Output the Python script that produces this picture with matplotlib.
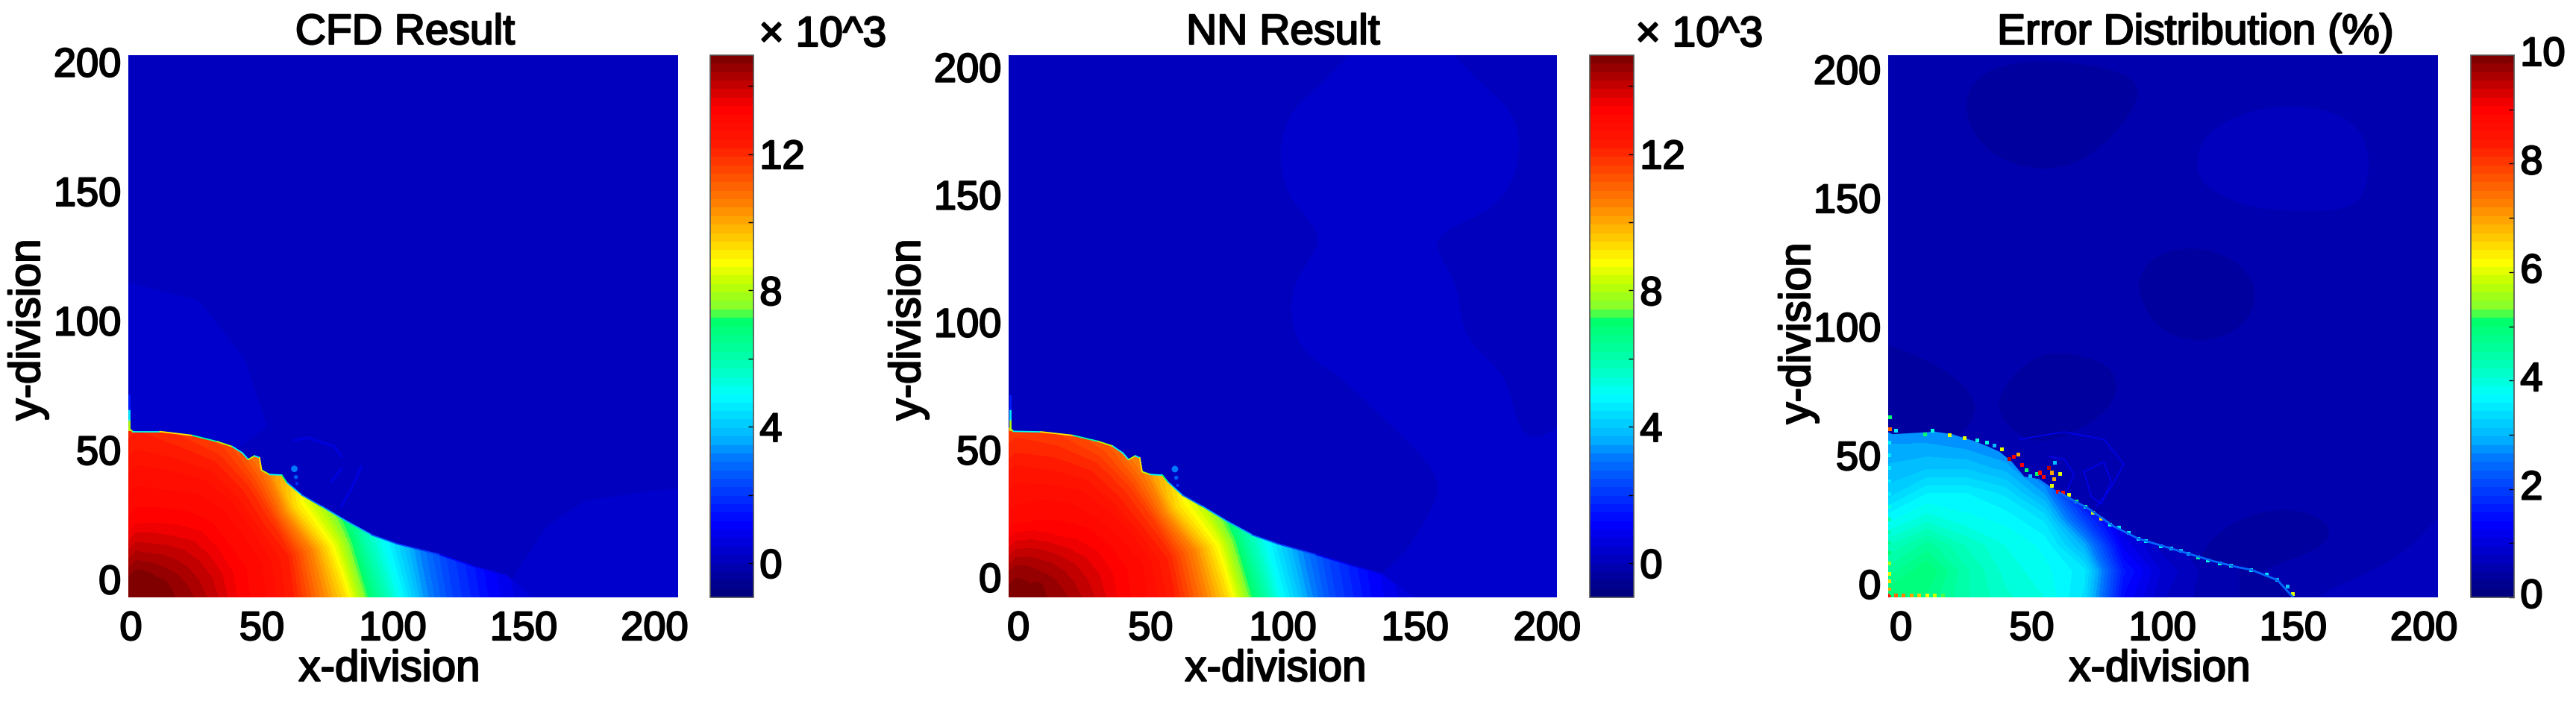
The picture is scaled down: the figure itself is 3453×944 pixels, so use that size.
import numpy as np
import matplotlib
matplotlib.use("Agg")
import matplotlib.pyplot as plt
import matplotlib.patheffects as pe
from matplotlib.cm import ScalarMappable
from matplotlib.colors import LinearSegmentedColormap, Normalize
from matplotlib.patches import Polygon
from matplotlib.transforms import ScaledTranslation

plt.rcParams['font.family'] = ['Liberation Sans', 'DejaVu Sans']

W, H = 3453, 945

# colour bar stops (not the stock jet, green has a hard step)
cmap_pos = [0, 0.13, 0.25, 0.29, 0.37, 0.42, 0.515, 0.53, 0.58, 0.62, 0.73, 0.84, 0.91, 1]
cmap_rgb = [(0, 0, 0.5), (0, 0, 1), (0, 0.45, 1), (0, 0.7, 1), (0, 1, 1), (0, 1, 0.75), (0, 1, 0.4),
            (0.5, 1, 0.2), (0.75, 1, 0), (1, 1, 0), (1, 0.5, 0), (1, 0.1, 0), (1, 0, 0), (0.5, 0, 0)]

# temperature tables, x 10^3: one row per ray from the stagnation point, one column per radius
ray_deg = [0, 15, 30, 45, 60, 75, 90, 180]
ray_r = [0, 10, 20, 30, 40, 50, 60, 70, 80, 90, 100, 110, 120, 135, 155]
cfd_vals = [
    [14.9, 14.8, 14.5, 14.0, 13.3, 12.9, 12.2, 10.7, 9.2, 6.8, 5.1, 3.4, 2.3, 1.2, 0.2],
    [14.9, 14.8, 14.4, 13.9, 13.3, 12.9, 12.2, 10.4, 8.3, 6.0, 4.5, 3.2, 2.2, 1.1, 0.2],
    [14.9, 14.8, 14.3, 13.8, 13.2, 12.8, 11.8, 9.3, 7.8, 6.5, 5.0, 3.2, 2.2, 1.1, 0.2],
    [14.9, 14.7, 14.2, 13.7, 13.2, 12.8, 12.0, 10.6, 9.5, 9.0, 8.5, 8.0, 7.0, 6.0, 5.0],
    [14.9, 14.7, 14.1, 13.5, 13.1, 12.8, 12.2, 11.4, 10.5, 10.0, 9.5, 9.0, 8.5, 8.0, 7.0],
    [14.9, 14.7, 14.0, 13.4, 13.0, 12.7, 12.2, 11.6, 11.0, 10.5, 10.0, 9.5, 9.0, 8.5, 8.0],
    [14.9, 14.7, 14.0, 13.3, 13.0, 12.7, 12.3, 12.0, 11.5, 11.0, 10.5, 10.0, 9.5, 9.0, 8.5],
    [14.9, 14.7, 14.0, 13.3, 13.0, 12.7, 12.3, 12.0, 11.5, 11.0, 10.5, 10.0, 9.5, 9.0, 8.5],
]
nn_vals = [
    [14.8, 14.7, 14.4, 13.9, 13.3, 12.9, 12.2, 10.8, 9.3, 7.0, 5.0, 3.5, 2.3, 1.2, 0.2],
    [14.8, 14.7, 14.3, 13.8, 13.3, 12.9, 12.1, 10.5, 8.6, 6.2, 4.5, 3.2, 2.2, 1.1, 0.2],
    [14.8, 14.7, 14.2, 13.7, 13.2, 12.7, 11.7, 9.4, 8.0, 6.5, 5.0, 3.2, 2.2, 1.1, 0.2],
    [14.8, 14.6, 14.1, 13.5, 13.1, 12.6, 11.8, 10.4, 9.3, 8.8, 8.4, 8.0, 7.0, 6.0, 5.0],
    [14.8, 14.6, 14.0, 13.3, 13.0, 12.6, 12.0, 11.1, 10.3, 9.8, 9.3, 8.8, 8.3, 7.8, 7.0],
    [14.8, 14.6, 13.9, 13.2, 12.9, 12.5, 12.0, 11.4, 10.8, 10.3, 9.8, 9.3, 8.8, 8.3, 7.8],
    [14.8, 14.6, 13.8, 13.1, 12.8, 12.5, 12.0, 11.7, 11.2, 10.7, 10.2, 9.7, 9.2, 8.7, 8.2],
    [14.8, 14.6, 13.8, 13.1, 12.8, 12.5, 12.0, 11.7, 11.2, 10.7, 10.2, 9.7, 9.2, 8.7, 8.2],
]

# shock front outlines and the colour value of the thin edge along them
cfd_front_x = [-1, 0.7, 11.1, 23.5, 33, 38.7, 42.5, 44.8, 47.2, 49.1, 49.9, 52.9, 57.6, 59.5, 65.2, 72.8, 82.3, 91.8, 101.3, 118, 130.3, 143.6, 153.1]
cfd_front_y = [58.5, 57.1, 57.1, 55.6, 53.2, 51.3, 48.9, 46.3, 47.7, 47, 42.2, 40.5, 40.3, 37.4, 32.6, 28.2, 22.5, 17.2, 13.8, 9.5, 5.2, 1.35, -7]
nn_front_x = [-3.3, -1.9, 8.5, 20.7, 30.1, 35.7, 39.5, 41.7, 44.2, 45.9, 46.8, 49.8, 54.5, 56.4, 62, 69.6, 79, 88.4, 97.8, 112.8, 125.5, 138, 149]
nn_front_y = [58.5, 57.2, 57, 55.6, 53.3, 51.4, 48.7, 46.1, 47.6, 46.8, 41.4, 40.3, 40, 37.5, 32.2, 27.8, 21.9, 16.6, 13.2, 8.8, 4.8, 1, -7.9]
edge_v = [8, 5, 9, 6, 8, 5, 5, 8, 5, 9, 8, 5, 7, 4, 3, 3.5, 3.5, 2.5, 2, 1.2, 0.8, 0.5, 0.2]

# faint structures above the front, CFD panel
cfd_arc1_x = [62.4, 67.7, 77.6, 80.4]
cfd_arc1_y = [53.7, 54.7, 51.3, 47.5]
cfd_arc2_x = [88, 84.2, 80.4]
cfd_arc2_y = [43.6, 35, 28.2]
cfd_arc3_x = [76.6, 80.4]
cfd_arc3_y = [37.8, 42.7]
# slightly lighter regions of the CFD background
lite_left_x = [-1, -1, 26, 43.6, 52, 40]
lite_left_y = [50, 114.7, 107.8, 85, 59, 50]
lite_right_x = [145.5, 158.8, 173, 196.8, 209, 209, 150]
lite_right_y = [0.4, 20.5, 30.2, 34, 35, -7, -7]

# blobs above the front: x, y, value, marker area
blob_x = [62.4, 63, 63.4]
blob_y = [42.7, 39.5, 37]
blob_nn_x = [59.2, 59.7, 60.2]
blob_nn_y = [42.4, 39, 36]
blob_v = [3, 2.5, 2]
blob_s = [40, 16, 8]

# NN and error background tables on a 20 division lattice, bottom row first
nn_bg = [
    [.2, .2, .2, .2, .2, .2, .2, .3, .35, .35, .35, .35],
    [.2, .2, .2, .2, .2, .1, .1, .1, .3, .35, .35, .35],
    [.1, .2, .3, .2, .1, .1, .1, .1, .2, .3, .3, .35],
    [.1, .1, .2, .1, .1, .1, .1, .2, .3, .3, .2, .3],
    [.1, .1, .1, .1, .1, .2, .2, .3, .3, .3, .2, .2],
    [.2, .1, .1, .1, .2, .2, .3, .3, .3, .2, .2, .2],
    [.2, .2, .2, .2, .2, .2, .3, .35, .3, .2, .2, .2],
    [.2, .2, .1, .1, .1, .2, .2, .3, .2, .2, .2, .2],
    [.2, .2, .1, .1, .2, .2, .35, .4, .4, .3, .2, .2],
    [.2, .2, .2, .2, .2, .2, .35, .4, .4, .35, .2, .2],
    [.1, .1, .2, .2, .2, .2, .2, .35, .35, .2, .2, .2],
    [.2, .2, .2, .2, .2, .2, .2, .2, .2, .2, .2, .2],
]
err_bg = [
    [.6, .6, .6, .6, .6, .5, .45, .5, .65, .75, .8, .8],
    [.6, .6, .6, .6, .6, .55, .45, .4, .38, .45, .6, .7],
    [.55, .55, .55, .55, .6, .6, .55, .5, .5, .55, .6, .6],
    [.4, .45, .5, .45, .55, .6, .6, .6, .6, .6, .6, .55],
    [.32, .4, .5, .35, .35, .55, .6, .6, .6, .6, .6, .5],
    [.5, .55, .55, .5, .55, .5, .45, .5, .55, .55, .6, .6],
    [.5, .55, .55, .55, .5, .45, .3, .45, .55, .55, .6, .6],
    [.5, .5, .5, .5, .5, .5, .5, .55, .55, .6, .6, .6],
    [.45, .5, .5, .5, .5, .55, .65, .7, .7, .65, .55, .55],
    [.5, .5, .45, .4, .45, .5, .65, .7, .72, .65, .55, .55],
    [.5, .5, .42, .4, .42, .45, .5, .55, .55, .55, .55, .55],
    [.55, .55, .55, .55, .55, .55, .55, .55, .55, .55, .55, .55],
]

# error inside the front, percent
err_tab_x = [-5, 10, 25, 40, 55, 70, 85, 100, 120, 150]
err_tab_y = [-5.2, 5, 15, 25, 35, 45, 55, 62]
err_vals = [
    [5.0, 4.8, 4.4, 4.1, 3.9, 3.4, 1.4, 0.8, 0.5, 0.4],
    [4.6, 5.0, 4.4, 4.0, 3.8, 3.5, 1.6, 0.9, 0.5, 0.4],
    [4.2, 4.6, 4.2, 3.9, 3.7, 2.9, 1.2, 0.7, 0.5, 0.4],
    [3.7, 4.0, 3.8, 3.7, 3.4, 2.0, 0.9, 0.6, 0.5, 0.4],
    [3.2, 3.6, 3.6, 3.4, 2.8, 1.2, 0.7, 0.6, 0.5, 0.4],
    [3.0, 3.1, 3.1, 2.9, 2.3, 1.0, 0.7, 0.6, 0.5, 0.4],
    [2.8, 2.8, 2.7, 2.5, 2.0, 0.9, 0.7, 0.6, 0.5, 0.4],
    [2.7, 2.7, 2.6, 2.4, 1.9, 0.9, 0.7, 0.6, 0.5, 0.4],
]
err_front_x = [-5, -3.2, 13, 19.6, 29.1, 37.7, 42.4, 47.2, 52.9, 60.5, 71.9, 81.4, 90.8, 100.3, 109.9, 119.4, 128.9, 134, 144, 150]
err_front_y = [59, 58.2, 59.2, 58.2, 55.2, 51.4, 47.5, 41.7, 40.8, 35.5, 29.2, 22.4, 17.6, 14.7, 11.8, 8.9, 6.5, 5.5, 1.5, -5.2]

# isolated hot cells in the error panel
spk_x = [-4.2, -4.2, -1.8, 12, 9.1, 18.6, 24.3, 29.1, 32.9, 35.8, 38.6, 41.5, 43.1, 44.8, 46.2, 48.1, 49.5,
         51.9, 53.3, 54.6, 56.7, 57.6, 61, 58.6, 57.6, 60, 61.9, 59, 64.3, 67.1, 70.5, 73.3, 76.6, 80, 83.3,
         87.1, 90.9, 93.8, 99.5, 103.3, 107.1, 110, 113.7, 117.5, 121.8, 126.1, 134, 140, 144, 148, 150]
spk_y = [64.9, 60.1, 59.6, 59.6, 58.2, 57.7, 56.7, 55.7, 54.8, 53.8, 52.4, 48.5, 49.5, 50.4, 46.1, 44.1, 41.9,
         42.7, 43.2, 41.5, 45.1, 43.2, 42.7, 40.8, 38.1, 35.9, 35.6, 47, 34.7, 32, 30.1, 27.7, 25.3, 23.2, 21.9,
         20, 17.6, 16.8, 14.7, 13.7, 12.8, 11.8, 10.3, 9.1, 7.9, 7, 5.5, 3.5, 1.5, -1, -4]
spk_v = [5, 7.5, 3.5, 4, 5, 6, 6, 4, 4, 3, 6, 9.5, 9, 7, 9, 5, 3,
         5, 8.5, 9, 9.5, 7, 6, 7, 6, 9, 8.5, 3, 6, 5, 4.5, 6, 6.5, 4, 3.5,
         3.5, 3.5, 3.5, 3.5, 3.5, 3, 3, 4.5, 4, 4, 4, 3.5, 3.5, 3, 3, 6]
# faint rings around the speckles
ring1_x = [45.3, 62.4, 77.6, 85.2, 80, 74.7]
ring1_y = [56.2, 59.1, 56.2, 46.6, 36.9, 30.1]
ring2_x = [70, 72.8, 76.6, 80.4, 77.6, 70]
ring2_y = [43.7, 34, 31.1, 39.8, 47.5, 43.7]
ring3_x = [56.7, 62.4, 66.2, 63.3]
ring3_y = [49.5, 48.5, 42.7, 35.9]
# left wall and bottom strip of the error panel
wall_y = [-5, -2, 1, 4, 8, 12, 16, 20, 25, 30, 35, 40, 45, 50, 55]
wall_v = [8, 7, 6.5, 6, 5.5, 5, 4.8, 4.5, 4.5, 4, 3.5, 3.5, 3.5, 3.5, 3.5]
strip_x = [-5, -2, 1, 4, 7, 10, 13, 16, 20]
strip_v = [8.5, 7.5, 7.2, 7, 6.6, 6.2, 5.8, 5.2, 4.6]

xticks = [0, 50, 100, 150, 200]
yticks = [0, 50, 100, 150, 200]

fs = 39
bold = [pe.withStroke(linewidth=1.6, foreground='black')]
cmap = LinearSegmentedColormap.from_list('cfd', list(zip(cmap_pos, cmap_rgb)), N=64)


def fig_text(px, py, s, size=fs, **kw):
    fig.text(px / W, 1 - py / H, s, ha='center', va='center', fontsize=size, path_effects=bold, **kw)


def panel(box, xlim, ylim, norm, bg=None):
    left, right, top, bottom = box
    ax = fig.add_axes([left / W, 1 - bottom / H, (right - left) / W, (bottom - top) / H])
    if bg is None:
        ax.set_facecolor(cmap(norm(0.1)))
    else:
        ax.imshow(bg, origin='lower', extent=(-15, 225, -15, 225), aspect='auto', cmap=cmap, norm=norm,
                  interpolation='bicubic')
    ax.set_xlim(xlim)
    ax.set_ylim(ylim)
    ax.set_xticks(xticks)
    ax.set_yticks(yticks)
    ax.tick_params(length=0, labelsize=fs, pad=7)
    ax.tick_params(axis='x', pad=13)
    for lab in ax.get_xticklabels() + ax.get_yticklabels():
        lab.set_path_effects(bold)
    for s in ax.spines.values():
        s.set_visible(False)
    return ax


def hot_zone(ax, X, Y, vals, front_x, front_y, norm):
    levels = np.linspace(norm.vmin, norm.vmax, 65)
    xlim, ylim = ax.get_xlim(), ax.get_ylim()
    outline = list(zip(front_x, front_y)) + [(front_x[-1], ylim[0]), (xlim[0], ylim[0]), (xlim[0], front_y[0])]
    clip = Polygon(outline, closed=True, transform=ax.transData, facecolor='none', edgecolor='none')
    ax.add_patch(clip)
    cs = ax.contourf(X, Y, vals, levels=levels, cmap=cmap, norm=norm, extend='both')
    cs.set_clip_path(clip)
    ax.set_xlim(xlim)
    ax.set_ylim(ylim)


def polar_zone(ax, cx, cy, vals, front_x, front_y, norm):
    ang = np.deg2rad(ray_deg)
    X = cx + np.outer(np.cos(ang), ray_r)
    Y = cy + np.outer(np.sin(ang), ray_r)
    hot_zone(ax, X, Y, np.array(vals), front_x, front_y, norm)


def edge(ax, xs, ys, vals, norm):
    for i in range(len(xs) - 1):
        ax.plot(xs[i:i + 2], ys[i:i + 2], color=cmap(norm(vals[i])), lw=1.3, solid_capstyle='round')


def colorbar(box, norm, ticks, labels, shift=0):
    left, right, top, bottom = box
    cax = fig.add_axes([left / W, 1 - bottom / H, (right - left) / W, (bottom - top) / H])
    cb = fig.colorbar(ScalarMappable(norm=norm, cmap=cmap), cax=cax)
    cb.set_ticks(ticks)
    cb.set_ticklabels(labels)
    cb.outline.set_linewidth(1.2)
    cb.outline.set_edgecolor('#555555')
    cax.tick_params(direction='in', length=5, width=1, labelsize=fs, pad=6, color='black')
    off = ScaledTranslation(0, shift / 72, fig.dpi_scale_trans)
    for lab in cax.get_yticklabels():
        lab.set_path_effects(bold)
        lab.set_transform(lab.get_transform() + off)
    return cax


fig = plt.figure(figsize=(W / 100, H / 100), dpi=100)

norm_t = Normalize(-1, 14.9)
norm_e = Normalize(0, 10)
t_ticks = [0, 2, 4, 6, 8, 10, 12, 14]
t_labels = ['0', '', '4', '', '8', '', '12', '']
e_ticks = list(range(11))
e_labels = ['0', '', '2', '', '4', '', '6', '', '8', '', '10']

# CFD
ax1 = panel((172, 909, 75, 802), (-1, 209), (-7, 202.6), norm_t)
ax1.fill(lite_left_x, lite_left_y, color=cmap(norm_t(0.4)), lw=0)
ax1.fill(lite_right_x, lite_right_y, color=cmap(norm_t(0.4)), lw=0)
for ax_x, ax_y in [(cfd_arc1_x, cfd_arc1_y), (cfd_arc2_x, cfd_arc2_y), (cfd_arc3_x, cfd_arc3_y)]:
    ax1.plot(ax_x, ax_y, color=cmap(norm_t(0.5)), lw=2.5)
polar_zone(ax1, 2, -7, cfd_vals, cfd_front_x, cfd_front_y, norm_t)
edge(ax1, cfd_front_x, cfd_front_y, edge_v, norm_t)
ax1.plot([-0.6, -0.6], [58, 62], color=cmap(norm_t(8)), lw=2)
ax1.plot([-0.6, -0.6], [62, 66], color=cmap(norm_t(4.5)), lw=2)
ax1.plot([-0.6, -0.6], [66, 71], color=cmap(norm_t(1.5)), lw=2)
ax1.scatter(blob_x, blob_y, c=blob_v, s=blob_s, cmap=cmap, norm=norm_t, lw=0)

# NN
ax2 = panel((1352, 2087, 75, 802), (-3.7, 203.7), (-7.9, 204.7), norm_t, nn_bg)
polar_zone(ax2, -1, -7.9, nn_vals, nn_front_x, nn_front_y, norm_t)
edge(ax2, nn_front_x, nn_front_y, edge_v, norm_t)
ax2.plot([-3.2, -3.2], [58, 62], color=cmap(norm_t(8)), lw=2)
ax2.plot([-3.2, -3.2], [62, 66], color=cmap(norm_t(4.5)), lw=2)
ax2.plot([-3.2, -3.2], [66, 71], color=cmap(norm_t(1.5)), lw=2)
ax2.scatter(blob_nn_x, blob_nn_y, c=blob_v, s=blob_s, cmap=cmap, norm=norm_t, lw=0)

# error
ax3 = panel((2531, 3268, 75, 802), (-4.9, 205.4), (-5.2, 205.5), norm_e, err_bg)
hot_zone(ax3, err_tab_x, err_tab_y, np.array(err_vals), err_front_x, err_front_y, norm_e)
for ax_x, ax_y in [(ring1_x, ring1_y), (ring2_x, ring2_y), (ring3_x, ring3_y)]:
    ax3.plot(ax_x, ax_y, color=cmap(norm_e(1.1)), lw=1.2)
ax3.plot(err_front_x[9:], err_front_y[9:], color=cmap(norm_e(2.4)), lw=2)
ax3.scatter(spk_x, spk_y, c=spk_v, cmap=cmap, norm=norm_e, marker='s', s=13, lw=0)
ax3.scatter([-4.5] * len(wall_y), wall_y, c=wall_v, cmap=cmap, norm=norm_e, marker='s', s=11, lw=0)
ax3.scatter(strip_x, [-4.6] * len(strip_x), c=strip_v, cmap=cmap, norm=norm_e, marker='s', s=13, lw=0)

colorbar((952, 1010, 75, 802), norm_t, t_ticks, t_labels)
colorbar((2131, 2190, 75, 802), norm_t, t_ticks, t_labels)
colorbar((3312, 3370, 75, 802), norm_e, e_ticks, e_labels, shift=4)

for cx, title in zip([543, 1720, 2943], ['CFD Result', 'NN Result', 'Error Distribution (%)']):
    fig_text(cx, 45, title, size=41)
for cx in [522, 1710, 2895]:
    fig_text(cx, 899, 'x-division', size=42)
for cx, cy in zip([38, 1218, 2411], [443, 443, 448]):
    fig_text(cx, cy, 'y-division', size=42, rotation=90)
for cx in [1103, 2278]:
    fig_text(cx, 48, '× 10^3', size=41)

fig.savefig('out.png', dpi=100)
